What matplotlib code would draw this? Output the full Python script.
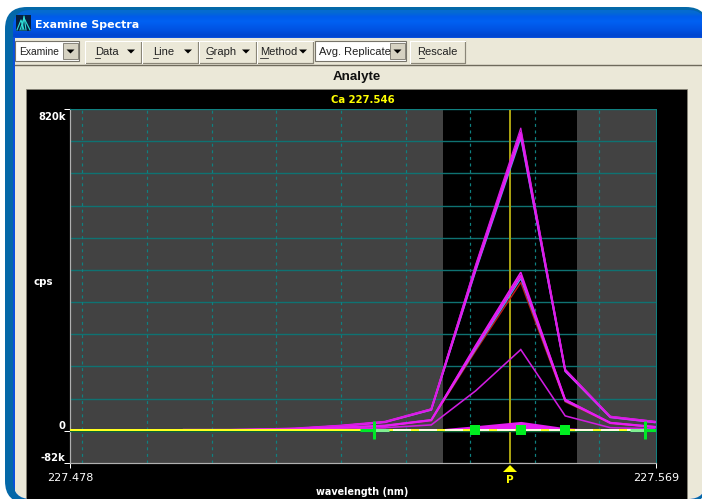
import numpy as np
import matplotlib
matplotlib.use("Agg")
import matplotlib.pyplot as plt
from matplotlib.patches import FancyBboxPatch, Rectangle, Polygon
from matplotlib.transforms import ScaledTranslation

W, H = 702, 499
UI = "Liberation Sans"
LBL = "DejaVu Sans"
PX = 0.72

# ---- data (kcps vs wavelength nm)
wavelength = [227.4780, 227.4850, 227.4920, 227.4990, 227.5060, 227.5129, 227.5199,
              227.5269, 227.5341, 227.5410, 227.5480, 227.5549, 227.5619, 227.5688]
top_a = [0, 0, 0, 1, 3, 6, 13, 23, 56, 424, 772, 157, 37, 24]
top_b = [0, 0, 0, 1, 3, 6, 13, 23, 55, 418, 762, 155, 36, 23]
top_c = [0, 0, 0, 1, 3, 5, 12, 22, 54, 412, 754, 153, 35, 22]
top_d = [0, 0, 0, 1, 2, 5, 12, 22, 53, 407, 746, 151, 34, 21]
mid_a = [0, 0, 0, 0, 2, 4, 8, 13, 28, 218, 404, 80, 21, 10]
mid_b = [0, 0, 0, 0, 2, 4, 8, 13, 27, 213, 396, 78, 20, 10]
mid_c = [0, 0, 0, 0, 1, 3, 7, 12, 27, 208, 388, 76, 20, 9]
mid_d = [0, 0, 0, 0, 1, 3, 7, 12, 26, 204, 378, 74, 19, 9]
low_a = [0, 0, 0, 0, 1, 2, 3, 8, 15, 102, 207, 38, 8, 5]
small_a = [0, 0, 0, 0, 0, 1, 1, 2, 3, 13, 24, 8, 2, 1]
baseline = [3] * len(wavelength)
pink_x = [227.4955, 227.5269]
pink_y = [5.5, 5.5]
under_y = [0] * len(wavelength)

x_ticks = [227.478, 227.569]
x_tick_labels = ["227.478", "227.569"]
y_ticks = [-82, 0, 820]
y_tick_labels = ["-82k", "0", "820k"]
h_grid = [82, 164, 246, 328, 410, 492, 574, 656, 738, 820, 0]
v_grid = [227.4799, 227.4899, 227.5000, 227.5100, 227.5201, 227.5301, 227.5401, 227.5502, 227.5602]
window_lo, window_hi = 227.5359, 227.5567
peak_wavelength = 227.5463
square_x = [227.5409, 227.5480, 227.5549]
square_y = [3, 3, 3]
cross_x = [227.5252, 227.5673]
cross_y = [2, 2]

fig = plt.figure(figsize=(W / 100, H / 100), dpi=100, facecolor="white")

# ---- window chrome, in pixel coordinates
ui = fig.add_axes([0, 0, 1, 1], zorder=0)
ui.set_xlim(0, W)
ui.set_ylim(H, 0)
ui.axis("off")


def rounded(x0, y0, x1, y1, r, color):
    p = FancyBboxPatch((x0 + r, y0 + r), x1 - x0 - 2 * r, y1 - y0 - 2 * r,
                       boxstyle=f"round,pad={r},rounding_size={r}", fc=color, ec="none", clip_on=True)
    ui.add_patch(p)
    return p


outer = rounded(5, 7, 708, 503, 22, "#0468a8")
inner = rounded(13, 10, 706, 499, 18, "#0a50dc")
grad = np.array([[0.02, 0.42, 0.82], [0.0, 0.36, 0.92], [0.0, 0.38, 0.95], [0.0, 0.35, 0.92],
                 [0.0, 0.32, 0.88], [0.0, 0.28, 0.82]])[:, None, :]
im = ui.imshow(grad, extent=(13, 706, 37, 10), aspect="auto", interpolation="bilinear", zorder=1.5)
im.set_clip_path(inner)
ui.set_xlim(0, W)
ui.set_ylim(H, 0)
body = Rectangle((15, 38), 700, 470, fc="#ebe8d8", ec="none", zorder=2)
ui.add_patch(body)
body.set_clip_path(inner)
ui.plot([15, W], [65, 65], color="#6e6a5c", lw=1.4 * PX, zorder=3)
ui.add_patch(Rectangle((26, 89), 661, 420, fc="black", ec="#8a8678", lw=0.5, zorder=3))

# icon
ui.add_patch(Rectangle((16, 15), 15, 16, fc="#062040", ec="none", zorder=3))
for xs, ys in [([17, 21, 24], [30, 20, 30]), ([20, 24, 30], [30, 18, 30]), ([22, 24, 26], [30, 16, 30])]:
    ui.plot(xs, ys, color="#30e0d8", lw=0.8, zorder=4)
ui.text(35, 24.5, "Examine Spectra", color="white", fontsize=7.9, fontweight="bold", family=LBL,
        va="center", ha="left", zorder=4)


def button(x0, x1, y0=41, y1=63):
    ui.add_patch(Rectangle((x0, y0), x1 - x0, y1 - y0, fc="#ebe8d8", ec="none", zorder=3))
    ui.plot([x0, x1, x1], [y1, y1, y0], color="#8a8678", lw=1.2 * PX, zorder=4)
    ui.plot([x0, x0, x1], [y1, y0, y0], color="#ffffff", lw=1 * PX, zorder=4)


def arrow(cx, cy=51.5, color="black"):
    ui.add_patch(Polygon([(cx - 4, cy - 2), (cx + 4, cy - 2), (cx, cy + 2)], fc=color, ec="none", zorder=6))


def label(x, txt, ha="left", ul=None, size=8):
    ui.text(x, 52, txt, fontsize=size, family=UI, color="#202020", va="center", ha=ha, zorder=5)
    if ul:
        ui.plot(ul, [58, 58], color="#202020", lw=0.8 * PX, zorder=5)


def combo(x0, x1, txt, size=8):
    ui.add_patch(Rectangle((x0, 41), x1 - x0, 20, fc="white", ec="#77746a", lw=0.8, zorder=3))
    ui.add_patch(Rectangle((x1 - 16, 43), 15, 16, fc="#d6d2c2", ec="#77746a", lw=0.6, zorder=4))
    label(x0 + 4, txt, size=size)
    arrow(x1 - 8.5)


combo(15, 79, "Examine", size=7.4)
for x0, x1, txt, tx, ax_, ul in [(85, 141, "Data", 95, 131, (95, 100)), (142, 198, "Line", 153, 188, (153, 158)),
                                 (199, 256, "Graph", 206, 246, (206, 212)), (257, 313, "Method", 260, 303, (260, 268))]:
    button(x0, x1)
    label(tx, txt, ul=ul)
    arrow(ax_)
combo(315, 406, "Avg. Replicate")
button(410, 465)
label(437.5, "Rescale", ha="center", ul=(419, 424))

ui.text(357, 76.5, "Analyte", fontsize=9.6, fontweight="bold", family=UI, color="#111111",
        ha="center", va="center", zorder=5)
ui.text(362.5, 100, "Ca 227.546", fontsize=7.3, fontweight="bold", family=LBL, color="#ffff00",
        ha="center", va="center", zorder=5)
ui.text(43, 282, "cps", fontsize=7.4, fontweight="bold", family=LBL, color="white", ha="center", va="center", zorder=5)
ui.text(362, 492, "wavelength (nm)", fontsize=6.9, fontweight="bold", family=LBL, color="white",
        ha="center", va="center", zorder=5)
ui.add_patch(Polygon([(503, 472), (510, 465), (517, 472)], fc="#ffff00", ec="none", zorder=5))
ui.text(510, 480, "P", fontsize=7.5, fontweight="bold", family=LBL, color="#ffff00", ha="center", va="center", zorder=5)

# ---- spectrum plot
L, R, T, B = 70, 656, 109, 463
ax = fig.add_axes([L / W, 1 - B / H, (R - L) / W, (B - T) / H], zorder=1, facecolor="#424242")
ax.set_xlim(x_ticks[0], x_ticks[1])
ax.set_ylim(-82, 820)
ax.axvspan(window_lo, window_hi, color="black", lw=0, zorder=0.5)
for y in h_grid:
    ax.axhline(y, color="#0f7272", lw=1.4 * PX, zorder=1)
for x in v_grid:
    ax.axvline(x, color="#0f8080", lw=1.2 * PX, ls=(0, (2.5, 3)), zorder=1)
ax.axvline(peak_wavelength, color="#a8a010", lw=2 * PX, zorder=2)

c_main = "#e61cf2"
for vals, c, w in [(top_d, "#4aa8e8", 1.4), (top_c, c_main, 2.0), (top_b, c_main, 2.0), (top_a, "#d41ce0", 1.2),
                   (mid_d, "#c01818", 1.4), (mid_c, "#5aa0e8", 1.4), (mid_b, c_main, 2.2), (mid_a, c_main, 1.6),
                   (low_a, "#d01ce0", 1.6)]:
    ax.plot(wavelength, vals, color=c, lw=w * PX, solid_joinstyle="miter", zorder=3)
ax.fill_between(wavelength, small_a, baseline, color=c_main, lw=0, zorder=3)
ax.plot(wavelength, under_y, color="#0c6a30", lw=1.2 * PX, zorder=3.5)
ax.plot(pink_x, pink_y, color="#f060c0", lw=1.4 * PX, zorder=3.6)
ax.plot(wavelength, baseline, color="#ffff20", lw=2 * PX, zorder=4)
ax.plot(wavelength[7:], baseline[7:], color="#fffbe0", lw=2 * PX, zorder=4.2)
ax.plot(wavelength[7:], baseline[7:], color="#ffff20", lw=2 * PX, ls=(0, (4, 9)), zorder=4.3)

ax.plot([227.5230, 227.5252], [2, 2], color="#00e828", lw=3 * PX, zorder=5, solid_capstyle="butt")
ax.plot([227.5252, 227.5275], [2, 2], color="#80f090", lw=3 * PX, zorder=5, solid_capstyle="butt")
ax.plot([227.5650, 227.5673], [2, 2], color="#80f090", lw=3 * PX, zorder=5, solid_capstyle="butt")
ax.plot([227.5673, 227.5690], [2, 2], color="#00e828", lw=3 * PX, zorder=5, solid_capstyle="butt")
ax.plot(cross_x, cross_y, ls="none", marker="|", ms=18 * PX, mew=3 * PX, color="#00e828", zorder=6)
ax.plot(square_x, square_y, ls="none", marker="s", ms=10 * PX, mew=0, color="#00ee20", zorder=6)

ax.set_xticks(x_ticks, x_tick_labels)
ax.set_yticks(y_ticks, y_tick_labels)
ax.tick_params(axis="x", colors="white", length=5 * PX, width=1 * PX, pad=3.5)
ax.tick_params(axis="y", colors="white", length=6 * PX, width=1 * PX, pad=-1)
for t in ax.get_xticklabels():
    t.set_fontsize(8)
    t.set_family(LBL)
    t.set_color("white")
for t, va, dy in zip(ax.get_yticklabels(), ["bottom", "bottom", "top"], [0, 0, -3]):
    t.set_fontsize(7.2)
    t.set_family(LBL)
    t.set_fontweight("bold")
    t.set_color("white")
    t.set_verticalalignment(va)
    t.set_transform(t.get_transform() + ScaledTranslation(0, dy / 100, fig.dpi_scale_trans))
for s in ["left", "bottom"]:
    ax.spines[s].set_color("#b0b0b0")
    ax.spines[s].set_linewidth(1.2 * PX)
for s in ["top", "right"]:
    ax.spines[s].set_color("#108080")
    ax.spines[s].set_linewidth(1 * PX)

fig.savefig("out.png", dpi=100, facecolor="white")
